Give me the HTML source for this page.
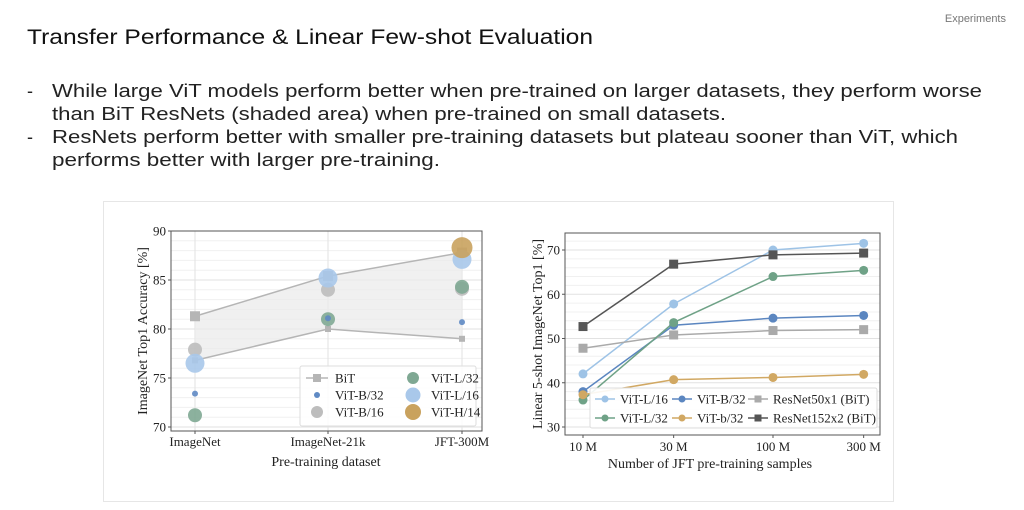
<!DOCTYPE html>
<html><head><meta charset="utf-8"><style>
html,body{margin:0;padding:0;background:#fff;width:1024px;height:510px;overflow:hidden}
svg{display:block;font-family:"Liberation Sans",sans-serif}
.serif{font-family:"Liberation Serif",serif}
</style></head><body>
<svg id="s" width="1024" height="510" viewBox="0 0 1024 510">
<text x="1006" y="22" font-size="11" fill="#777" text-anchor="end">Experiments</text>
<text x="27" y="44" font-size="21" fill="#111" textLength="566" lengthAdjust="spacingAndGlyphs">Transfer Performance &amp; Linear Few-shot Evaluation</text>
<g font-size="18" fill="#222">
<text x="27" y="97">-</text>
<text x="52" y="97" textLength="930" lengthAdjust="spacingAndGlyphs">While large ViT models perform better when pre-trained on larger datasets, they perform worse</text>
<text x="52" y="120" textLength="674" lengthAdjust="spacingAndGlyphs">than BiT ResNets (shaded area) when pre-trained on small datasets.</text>
<text x="27" y="143">-</text>
<text x="52" y="143" textLength="906" lengthAdjust="spacingAndGlyphs">ResNets perform better with smaller pre-training datasets but plateau sooner than ViT, which</text>
<text x="52" y="166" textLength="388" lengthAdjust="spacingAndGlyphs">performs better with larger pre-training.</text>
</g>
<rect x="103.5" y="201.5" width="790" height="300" fill="none" stroke="#e6e6e6"/>
<g id="left" class="serif"></g>
<g id="right" class="serif"></g>
</svg>
<script>
const NS="http://www.w3.org/2000/svg";
function mk(p,t,a,txt){const e=document.createElementNS(NS,t);for(const k in a)e.setAttribute(k,a[k]);if(txt!=null)e.textContent=txt;p.appendChild(e);return e;}

// ---- Left chart data ----
const leftCats=["ImageNet","ImageNet-21k","JFT-300M"];
const leftTicks=[70,75,80,85,90];
const bitUpper=[81.3,85.4,87.8];
const bitLower=[76.8,80.0,79.0];
const vitB32=[73.4,81.1,80.7];
const vitB16=[77.9,84.0,84.1];
const vitL32=[71.2,81.0,84.3];
const vitL16=[76.5,85.2,87.1];
const vitH14=[null,null,88.3];

// ---- Right chart data ----
const rightX=[10,30,100,300];
const rightXLabels=["10 M","30 M","100 M","300 M"];
const rightTicks=[30,40,50,60,70];
const rL16=[42.0,57.8,70.0,71.5];
const rB32=[38.0,53.0,54.6,55.2];
const rR50=[47.8,50.8,51.8,52.0];
const rL32=[36.1,53.6,64.0,65.4];
const rb32=[37.3,40.7,41.2,41.9];
const rR152=[52.7,66.8,68.9,69.3];

// Left chart
(function(){
const g=document.getElementById('left');
const L=171,R=482,T=231,B=431;
const y=v=>427-(v-70)*9.8;
const x=i=>[195,328,462][i];
for(let v=70;v<=90;v+=1){const l=mk(g,'line',{x1:L,x2:R,y1:y(v),y2:y(v),stroke:v%5?'#f0f0f0':'#e2e2e2','stroke-width':1});
}
leftCats.forEach((c,i)=>{const l=mk(g,'line',{x1:x(i),x2:x(i),y1:T,y2:B,stroke:'#e2e2e2'});});
let pts=bitUpper.map((v,i)=>x(i)+','+y(v)).concat(bitLower.map((v,i)=>x(i)+','+y(v)).reverse());
const sh=mk(g,'polygon',{points:pts.join(' '),fill:'#ebebeb','fill-opacity':0.75});

[bitUpper,bitLower].forEach((arr,k)=>{
 const pl=mk(g,'polyline',{points:arr.map((v,i)=>x(i)+','+y(v)).join(' '),fill:'none',stroke:'#b5b5b5','stroke-width':1.5});
 
 arr.forEach((v,i)=>{const s=k?3:5;const r=mk(g,'rect',{x:x(i)-s,y:y(v)-s,width:2*s,height:2*s,fill:'#b5b5b5'});
 });
});
const series=[[vitB16,'#bdbdbd',7,'vit-b16'],[vitL32,'#7fa893',7,'vit-l32'],[vitL16,'#a9c8ea',9.5,'vit-l16'],[vitB32,'#5f8ac4',3,'vit-b32'],[vitH14,'#c9a25e',10.5,'vit-h14']];
series.forEach(([arr,col,r,nm])=>arr.forEach((v,i)=>{if(v==null)return;
 const c=mk(g,'circle',{cx:x(i),cy:y(v),r:r,fill:col,'fill-opacity':0.9});
 }));
mk(g,'rect',{x:L,y:T,width:R-L,height:B-T,fill:'none',stroke:'#555','stroke-width':1});
leftTicks.forEach(v=>{const t=mk(g,'text',{x:L-5,y:y(v)+4.5,'font-size':13,'text-anchor':'end',fill:'#222'},v);
 mk(g,'line',{x1:L-3,x2:L,y1:y(v),y2:y(v),stroke:'#555'});});
leftCats.forEach((c,i)=>{const t=mk(g,'text',{x:x(i),y:446,'font-size':13,'text-anchor':'middle',fill:'#222'},c);
 mk(g,'line',{x1:x(i),x2:x(i),y1:B,y2:B+3,stroke:'#555'});});
let t=mk(g,'text',{x:326,y:466,'font-size':14,'text-anchor':'middle',fill:'#222'},'Pre-training dataset');
t=mk(g,'text',{transform:'translate(147,331) rotate(-90)','font-size':14,'text-anchor':'middle',fill:'#222'},'ImageNet Top1 Accuracy [%]');
const lg=mk(g,'g',{});
mk(lg,'rect',{x:300,y:366,width:176,height:60,fill:'#fff','fill-opacity':0.85,stroke:'#ddd',rx:2});
const items=[['BiT',null,0,306,378],['ViT-B/32','#5f8ac4',3,306,395],['ViT-B/16','#bdbdbd',6,306,412],['ViT-L/32','#7fa893',6,402,378],['ViT-L/16','#a9c8ea',7.5,402,395],['ViT-H/14','#c9a25e',8,402,412]];
items.forEach(([n,c,r,lx,ly])=>{const e=mk(lg,'g',{});
 if(!c){mk(e,'line',{x1:lx,x2:lx+22,y1:ly,y2:ly,stroke:'#b5b5b5','stroke-width':1.5});mk(e,'rect',{x:lx+7,y:ly-4,width:8,height:8,fill:'#b5b5b5'});}
 else mk(e,'circle',{cx:lx+11,cy:ly,r:r,fill:c});
 mk(e,'text',{x:lx+29,y:ly+4.5,'font-size':13,fill:'#222'},n);});
})();

// Right chart
(function(){
const g=document.getElementById('right');
const L=565,R=880,T=233,B=435;
const y=v=>427-(v-30)*4.425;
const x=v=>583+Math.log10(v/10)*190;
for(let v=26;v<=74;v+=2){if(y(v)<T||y(v)>B)continue;const l=mk(g,'line',{x1:L,x2:R,y1:y(v),y2:y(v),stroke:v%10?'#f0f0f0':'#e2e2e2'});}
const ser=[[rL16,'#9ec3e6','c','vit-l16'],[rB32,'#5b86c0','c','vit-b32'],[rR50,'#aaaaaa','s','resnet50x1'],[rL32,'#6fa287','c','vit-l32'],[rb32,'#d1a863','c','vit-b32-small'],[rR152,'#555555','s','resnet152x2']];
ser.forEach(([arr,col,m,nm])=>{
 const pl=mk(g,'polyline',{points:arr.map((v,i)=>x(rightX[i])+','+y(v)).join(' '),fill:'none',stroke:col,'stroke-width':1.5});
 
 arr.forEach((v,i)=>{let e;if(m=='c')e=mk(g,'circle',{cx:x(rightX[i]),cy:y(v),r:4.5,fill:col});else e=mk(g,'rect',{x:x(rightX[i])-4.5,y:y(v)-4.5,width:9,height:9,fill:col});
 });
});
mk(g,'rect',{x:L,y:T,width:R-L,height:B-T,fill:'none',stroke:'#555'});
rightTicks.forEach(v=>{const t=mk(g,'text',{x:L-5,y:y(v)+4.5,'font-size':13,'text-anchor':'end',fill:'#222'},v);mk(g,'line',{x1:L-3,x2:L,y1:y(v),y2:y(v),stroke:'#555'});});
rightX.forEach((v,i)=>{const t=mk(g,'text',{x:x(v),y:451,'font-size':13,'text-anchor':'middle',fill:'#222'},rightXLabels[i]);mk(g,'line',{x1:x(v),x2:x(v),y1:B,y2:B+3,stroke:'#555'});});
let t=mk(g,'text',{x:710,y:468,'font-size':14,'text-anchor':'middle',fill:'#222'},'Number of JFT pre-training samples');
t=mk(g,'text',{transform:'translate(542,334) rotate(-90)','font-size':14,'text-anchor':'middle',fill:'#222'},'Linear 5-shot ImageNet Top1 [%]');
const lg=mk(g,'g',{});
mk(lg,'rect',{x:590,y:388,width:287,height:40,fill:'#fff','fill-opacity':0.9,stroke:'#ddd',rx:2});
const it=[['ViT-L/16','#9ec3e6','c',595,399],['ViT-B/32','#5b86c0','c',672,399],['ResNet50x1 (BiT)','#aaaaaa','s',748,399],['ViT-L/32','#6fa287','c',595,418],['ViT-b/32','#d1a863','c',672,418],['ResNet152x2 (BiT)','#555555','s',748,418]];
it.forEach(([n,c,m,lx,ly])=>{const e=mk(lg,'g',{});
 mk(e,'line',{x1:lx,x2:lx+20,y1:ly,y2:ly,stroke:c,'stroke-width':1.5});
 if(m=='c')mk(e,'circle',{cx:lx+10,cy:ly,r:3.5,fill:c});else mk(e,'rect',{x:lx+6.5,y:ly-3.5,width:7,height:7,fill:c});
 mk(e,'text',{x:lx+25,y:ly+4.5,'font-size':13,fill:'#222'},n);});
})();
</script>
</body></html>
